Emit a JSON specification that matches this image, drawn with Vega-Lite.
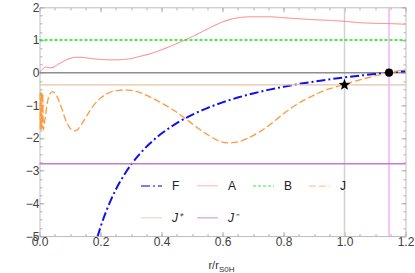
{
  "$schema": "https://vega.github.io/schema/vega-lite/v6.json",
  "width": 366,
  "height": 228.7,
  "autosize": {"type": "none"},
  "padding": {"left": 39.5, "top": 7.3, "right": 9.5, "bottom": 37},
  "background": "white",
  "config": {
    "view": {"stroke": null},
    "font": "Liberation Sans",
    "axis": {
      "grid": false,
      "labelFlush": false,
      "labelOverlap": false,
      "domainColor": "#bdbdbd",
      "tickColor": "#b0b0b0",
      "labelColor": "#404040",
      "labelFontSize": 12,
      "labelFont": "Liberation Sans",
      "titleFont": "Liberation Sans",
      "titleFontWeight": "normal",
      "titleColor": "#333333"
    }
  },
  "datasets": {
    "curves": [
      {"s": "F", "r": 0.19, "v": -5.03}, {"s": "F", "r": 0.2, "v": -4.73}, {"s": "F", "r": 0.21, "v": -4.457}, {"s": "F", "r": 0.22, "v": -4.209}, {"s": "F", "r": 0.235, "v": -3.877}, {"s": "F", "r": 0.25, "v": -3.584}, {"s": "F", "r": 0.265, "v": -3.325}, {"s": "F", "r": 0.28, "v": -3.093}, {"s": "F", "r": 0.3, "v": -2.82}, {"s": "F", "r": 0.33, "v": -2.473}, {"s": "F", "r": 0.36, "v": -2.183}, {"s": "F", "r": 0.4, "v": -1.865}, {"s": "F", "r": 0.45, "v": -1.547}, {"s": "F", "r": 0.5, "v": -1.292}, {"s": "F", "r": 0.55, "v": -1.084}, {"s": "F", "r": 0.6, "v": -0.91}, {"s": "F", "r": 0.65, "v": -0.763}, {"s": "F", "r": 0.7, "v": -0.637}, {"s": "F", "r": 0.75, "v": -0.528}, {"s": "F", "r": 0.8, "v": -0.433}, {"s": "F", "r": 0.85, "v": -0.348}, {"s": "F", "r": 0.9, "v": -0.273}, {"s": "F", "r": 0.95, "v": -0.206}, {"s": "F", "r": 1.0, "v": -0.146}, {"s": "F", "r": 1.05, "v": -0.091}, {"s": "F", "r": 1.1, "v": -0.042}, {"s": "F", "r": 1.146, "v": 0}, {"s": "F", "r": 1.2, "v": 0.045},
      {"s": "A", "r": 0, "v": 0}, {"s": "A", "r": 0.006, "v": 0.07}, {"s": "A", "r": 0.0125, "v": 0.13}, {"s": "A", "r": 0.02, "v": 0.17}, {"s": "A", "r": 0.025, "v": 0.17}, {"s": "A", "r": 0.032, "v": 0.15}, {"s": "A", "r": 0.04, "v": 0.15}, {"s": "A", "r": 0.05, "v": 0.19}, {"s": "A", "r": 0.06, "v": 0.25}, {"s": "A", "r": 0.075, "v": 0.33}, {"s": "A", "r": 0.09, "v": 0.4}, {"s": "A", "r": 0.105, "v": 0.45}, {"s": "A", "r": 0.12, "v": 0.47}, {"s": "A", "r": 0.135, "v": 0.47}, {"s": "A", "r": 0.155, "v": 0.45}, {"s": "A", "r": 0.18, "v": 0.42}, {"s": "A", "r": 0.21, "v": 0.4}, {"s": "A", "r": 0.24, "v": 0.39}, {"s": "A", "r": 0.27, "v": 0.4}, {"s": "A", "r": 0.3, "v": 0.43}, {"s": "A", "r": 0.33, "v": 0.5}, {"s": "A", "r": 0.36, "v": 0.57}, {"s": "A", "r": 0.4, "v": 0.7}, {"s": "A", "r": 0.44, "v": 0.85}, {"s": "A", "r": 0.48, "v": 1.01}, {"s": "A", "r": 0.52, "v": 1.19}, {"s": "A", "r": 0.56, "v": 1.38}, {"s": "A", "r": 0.6, "v": 1.55}, {"s": "A", "r": 0.63, "v": 1.64}, {"s": "A", "r": 0.66, "v": 1.69}, {"s": "A", "r": 0.7, "v": 1.71}, {"s": "A", "r": 0.75, "v": 1.71}, {"s": "A", "r": 0.8, "v": 1.68}, {"s": "A", "r": 0.85, "v": 1.65}, {"s": "A", "r": 0.9, "v": 1.62}, {"s": "A", "r": 0.95, "v": 1.6}, {"s": "A", "r": 1.0, "v": 1.57}, {"s": "A", "r": 1.05, "v": 1.53}, {"s": "A", "r": 1.1, "v": 1.51}, {"s": "A", "r": 1.15, "v": 1.5}, {"s": "A", "r": 1.2, "v": 1.48},
      {"s": "J", "r": 0, "v": -0.62}, {"s": "J", "r": 0.002, "v": -1.72}, {"s": "J", "r": 0.004, "v": -0.6}, {"s": "J", "r": 0.006, "v": -1.75}, {"s": "J", "r": 0.0075, "v": -0.6}, {"s": "J", "r": 0.009, "v": -1.7}, {"s": "J", "r": 0.0105, "v": -0.65}, {"s": "J", "r": 0.0125, "v": -1.75}, {"s": "J", "r": 0.016, "v": -1.55}, {"s": "J", "r": 0.02, "v": -1.3}, {"s": "J", "r": 0.025, "v": -0.95}, {"s": "J", "r": 0.03, "v": -0.75}, {"s": "J", "r": 0.036, "v": -0.63}, {"s": "J", "r": 0.043, "v": -0.58}, {"s": "J", "r": 0.05, "v": -0.62}, {"s": "J", "r": 0.06, "v": -0.78}, {"s": "J", "r": 0.07, "v": -1.02}, {"s": "J", "r": 0.08, "v": -1.3}, {"s": "J", "r": 0.09, "v": -1.54}, {"s": "J", "r": 0.1, "v": -1.7}, {"s": "J", "r": 0.11, "v": -1.77}, {"s": "J", "r": 0.118, "v": -1.78}, {"s": "J", "r": 0.125, "v": -1.74}, {"s": "J", "r": 0.135, "v": -1.62}, {"s": "J", "r": 0.15, "v": -1.4}, {"s": "J", "r": 0.165, "v": -1.17}, {"s": "J", "r": 0.18, "v": -0.97}, {"s": "J", "r": 0.2, "v": -0.78}, {"s": "J", "r": 0.22, "v": -0.65}, {"s": "J", "r": 0.24, "v": -0.575}, {"s": "J", "r": 0.26, "v": -0.54}, {"s": "J", "r": 0.28, "v": -0.53}, {"s": "J", "r": 0.3, "v": -0.545}, {"s": "J", "r": 0.32, "v": -0.58}, {"s": "J", "r": 0.34, "v": -0.65}, {"s": "J", "r": 0.37, "v": -0.78}, {"s": "J", "r": 0.4, "v": -0.93}, {"s": "J", "r": 0.44, "v": -1.15}, {"s": "J", "r": 0.48, "v": -1.42}, {"s": "J", "r": 0.52, "v": -1.7}, {"s": "J", "r": 0.56, "v": -1.95}, {"s": "J", "r": 0.59, "v": -2.1}, {"s": "J", "r": 0.62, "v": -2.15}, {"s": "J", "r": 0.65, "v": -2.12}, {"s": "J", "r": 0.68, "v": -2.02}, {"s": "J", "r": 0.72, "v": -1.82}, {"s": "J", "r": 0.76, "v": -1.56}, {"s": "J", "r": 0.8, "v": -1.26}, {"s": "J", "r": 0.84, "v": -0.99}, {"s": "J", "r": 0.88, "v": -0.78}, {"s": "J", "r": 0.92, "v": -0.6}, {"s": "J", "r": 0.96, "v": -0.47}, {"s": "J", "r": 1.0, "v": -0.36}, {"s": "J", "r": 1.05, "v": -0.22}, {"s": "J", "r": 1.1, "v": -0.1}, {"s": "J", "r": 1.146, "v": 0}, {"s": "J", "r": 1.2, "v": 0.09}
    ],
    "constants": [
      {"s": "B", "r": 0, "v": 1}, {"s": "B", "r": 1.2, "v": 1},
      {"s": "J⁺", "r": 0, "v": -0.375}, {"s": "J⁺", "r": 1.2, "v": -0.375},
      {"s": "J⁻", "r": 0, "v": -2.79}, {"s": "J⁻", "r": 1.2, "v": -2.79}
    ],
    "vlines": [
      {"kind": "ref", "r": 1.0},
      {"kind": "horizon", "r": 1.146}
    ],
    "hlines": [{"v": 0}],
    "markers": [
      {"kind": "star", "r": 1.0, "v": -0.375},
      {"kind": "dot", "r": 1.146, "v": 0}
    ]
  },
  "layer": [
    {
      "data": {"name": "vlines"},
      "transform": [{"filter": "datum.kind == 'ref'"}],
      "mark": {"type": "rule", "color": "#d0d0d0", "strokeWidth": 1.5},
      "encoding": {"x": {"field": "r", "type": "quantitative", "scale": {"domain": [0, 1.2], "nice": false}, "axis": null}}
    },
    {
      "data": {"name": "vlines"},
      "transform": [{"filter": "datum.kind == 'horizon'"}],
      "mark": {"type": "rule", "color": "#f49cf4", "strokeWidth": 1.2},
      "encoding": {"x": {"field": "r", "type": "quantitative", "axis": null}}
    },
    {
      "data": {"name": "hlines"},
      "mark": {"type": "rule", "color": "#8e8e8e", "strokeWidth": 1.5},
      "encoding": {"y": {"field": "v", "type": "quantitative", "scale": {"domain": [-5, 2], "nice": false}, "axis": null}}
    },
    {
      "data": {"name": "curves"},
      "mark": {"type": "line", "clip": true, "interpolate": "monotone"},
      "encoding": {
        "x": {"field": "r", "type": "quantitative",
          "axis": {"orient": "bottom", "values": [0, 0.2, 0.4, 0.6, 0.8, 1, 1.2], "format": ".1f", "tickSize": -4.5, "labelPadding": 5,
            "title": "r/r", "titleFontSize": 11, "titleX": 178.8, "titleY": 32, "titleAlign": "right", "titleBaseline": "alphabetic"}},
        "y": {"field": "v", "type": "quantitative",
          "axis": {"orient": "left", "values": [-5, -4, -3, -2, -1, 0, 1, 2], "tickSize": -4.5, "labelPadding": 5, "title": null}},
        "color": {"field": "s", "type": "nominal",
          "scale": {"domain": ["F", "A", "B", "J", "J⁺", "J⁻"], "range": ["#1010f0", "#ff7a7a", "#10e810", "#ff9a3c", "#e6c3a5", "#c57bd0"]},
          "legend": {"title": null, "orient": "none", "legendX": 100.5, "legendY": 167, "direction": "horizontal", "columns": 4,
            "symbolType": "stroke", "symbolSize": 441, "symbolStrokeWidth": 1.5, "symbolOpacity": 0.55,
            "labelFontSize": 12, "labelOffset": 9, "labelColor": "#222222", "columnPadding": 12, "rowPadding": 14, "gridAlign": "all", "padding": 0,
            "encode": {"labels": {"update": {"fontStyle": {"signal": "length(datum.label) > 1 ? 'italic' : 'normal'"}}}}}},
        "strokeDash": {"field": "s", "type": "nominal",
          "scale": {"domain": ["F", "A", "B", "J", "J⁺", "J⁻"], "range": [[9, 3, 2, 3], [1, 0], [3, 2], [7, 3], [1, 0], [1, 0]]},
          "legend": {"title": null}},
        "strokeWidth": {"field": "s", "type": "nominal",
          "scale": {"type": "ordinal", "domain": ["F", "A", "B", "J", "J⁺", "J⁻"], "range": [2, 1, 1.4, 1.3, 1.4, 1.4]},
          "legend": null}
      }
    },
    {
      "data": {"name": "constants"},
      "mark": {"type": "line"},
      "encoding": {
        "x": {"field": "r", "type": "quantitative",
          "axis": {"orient": "top", "values": [0, 0.05, 0.1, 0.15, 0.2, 0.25, 0.3, 0.35, 0.4, 0.45, 0.5, 0.55, 0.6, 0.65, 0.7, 0.75, 0.8, 0.85, 0.9, 0.95, 1, 1.05, 1.1, 1.15, 1.2], "labels": false, "domain": false, "tickSize": -2.5, "title": null}},
        "y": {"field": "v", "type": "quantitative",
          "axis": {"orient": "right", "values": [-5, -4.75, -4.5, -4.25, -4, -3.75, -3.5, -3.25, -3, -2.75, -2.5, -2.25, -2, -1.75, -1.5, -1.25, -1, -0.75, -0.5, -0.25, 0, 0.25, 0.5, 0.75, 1, 1.25, 1.5, 1.75, 2], "labels": false, "domain": false, "tickSize": -2.5, "title": null}},
        "color": {"field": "s", "type": "nominal",
          "scale": {"domain": ["F", "A", "B", "J", "J⁺", "J⁻"], "range": ["#1010f0", "#ff7a7a", "#10e810", "#ff9a3c", "#e6c3a5", "#c57bd0"]},
          "legend": {"title": null}},
        "strokeDash": {"field": "s", "type": "nominal",
          "scale": {"domain": ["F", "A", "B", "J", "J⁺", "J⁻"], "range": [[9, 3, 2, 3], [1, 0], [3, 2], [7, 3], [1, 0], [1, 0]]},
          "legend": {"title": null}},
        "strokeWidth": {"field": "s", "type": "nominal",
          "scale": {"type": "ordinal", "domain": ["F", "A", "B", "J", "J⁺", "J⁻"], "range": [2, 1, 1.4, 1.3, 1.4, 1.4]},
          "legend": null}
      }
    },
    {
      "data": {"name": "markers"},
      "transform": [{"filter": "datum.kind == 'star'"}],
      "mark": {"type": "point", "filled": true, "color": "black", "opacity": 1, "size": 150,
        "shape": "M0,-1L0.247,-0.34L0.951,-0.309L0.399,0.13L0.588,0.809L0,0.42L-0.588,0.809L-0.399,0.13L-0.951,-0.309L-0.247,-0.34Z"},
      "encoding": {
        "x": {"field": "r", "type": "quantitative",
          "axis": {"orient": "bottom", "values": [0, 0.05, 0.1, 0.15, 0.2, 0.25, 0.3, 0.35, 0.4, 0.45, 0.5, 0.55, 0.6, 0.65, 0.7, 0.75, 0.8, 0.85, 0.9, 0.95, 1, 1.05, 1.1, 1.15, 1.2], "labels": false, "domain": false, "tickSize": -2.5,
            "title": "S0H", "titleFontSize": 8, "titleX": 179, "titleY": 35, "titleAlign": "left", "titleBaseline": "alphabetic"}},
        "y": {"field": "v", "type": "quantitative",
          "axis": {"orient": "left", "values": [-5, -4.75, -4.5, -4.25, -4, -3.75, -3.5, -3.25, -3, -2.75, -2.5, -2.25, -2, -1.75, -1.5, -1.25, -1, -0.75, -0.5, -0.25, 0, 0.25, 0.5, 0.75, 1, 1.25, 1.5, 1.75, 2], "labels": false, "domain": false, "tickSize": -2.5, "title": null}}
      }
    },
    {
      "data": {"name": "markers"},
      "transform": [{"filter": "datum.kind == 'dot'"}],
      "mark": {"type": "circle", "color": "black", "opacity": 1, "size": 65},
      "encoding": {
        "x": {"field": "r", "type": "quantitative",
          "axis": {"orient": "top", "values": [0, 0.2, 0.4, 0.6, 0.8, 1, 1.2], "labels": false, "tickSize": -4.5, "title": null}},
        "y": {"field": "v", "type": "quantitative",
          "axis": {"orient": "right", "values": [-5, -4, -3, -2, -1, 0, 1, 2], "labels": false, "tickSize": -4.5, "title": null}}
      }
    }
  ],
  "resolve": {"axis": {"x": "independent", "y": "independent"}}
}
